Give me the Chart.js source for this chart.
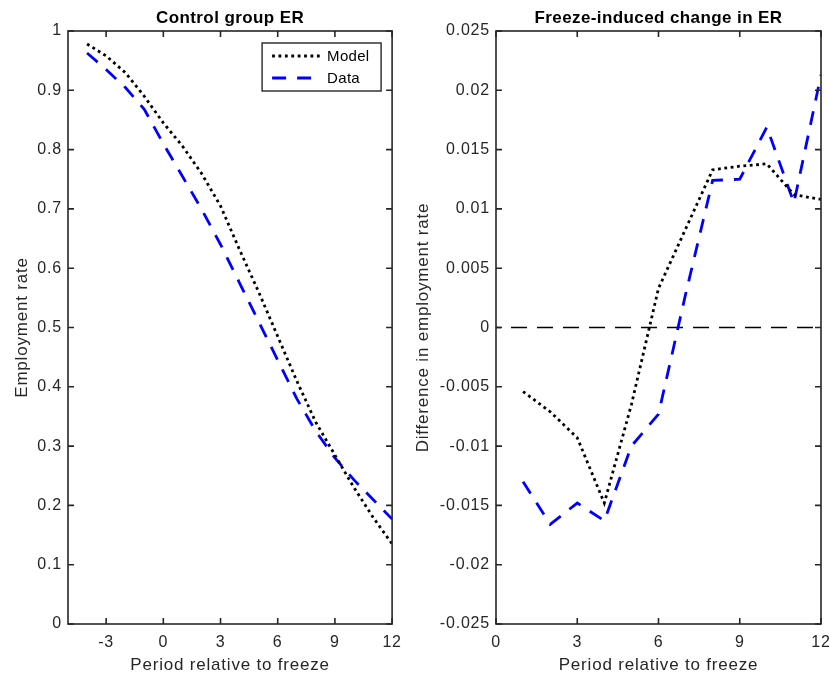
<!DOCTYPE html>
<html>
<head>
<meta charset="utf-8">
<script src="https://cdn.jsdelivr.net/npm/chart.js@4.4.0/dist/chart.umd.min.js"></script>
<style>
  html, body { margin: 0; padding: 0; background: #fff; overflow: hidden; }
  #wrap { position: relative; width: 830px; height: 682px; overflow: hidden; }
  #left { position: absolute; left: 0; top: 0; }
  #right { position: absolute; left: 410px; top: 0; }
</style>
</head>
<body>
<div id="wrap">
  <canvas id="left" width="410" height="682"></canvas>
  <canvas id="right" width="440" height="682"></canvas>
</div>
<script>
// left panel: control group employment rate
const periodsLeft = [-4, -3, -2, -1, 0, 1, 2, 3, 4, 5, 6, 7, 8, 9, 10, 11, 12];
const controlModel = [0.978, 0.958, 0.930, 0.890, 0.845, 0.806, 0.760, 0.705, 0.631, 0.560, 0.485, 0.410, 0.340, 0.285, 0.230, 0.180, 0.135];
const controlData = [0.963, 0.935, 0.905, 0.868, 0.810, 0.755, 0.700, 0.640, 0.575, 0.510, 0.445, 0.380, 0.325, 0.280, 0.243, 0.210, 0.177];
const leftXTicks = [-3, 0, 3, 6, 9, 12];
const leftYTicks = [0, 0.1, 0.2, 0.3, 0.4, 0.5, 0.6, 0.7, 0.8, 0.9, 1];

// right panel: freeze-induced change
const periodsRight = [1, 2, 3, 4, 5, 6, 7, 8, 9, 10, 11, 12];
const changeModel = [-0.0054, -0.0071, -0.0093, -0.0148, -0.0065, 0.0033, 0.0083, 0.0133, 0.0136, 0.0138, 0.0112, 0.0108];
const changeData = [-0.0130, -0.0166, -0.0148, -0.0163, -0.0100, -0.0073, 0.0028, 0.0124, 0.0125, 0.0169, 0.0105, 0.0213];
const zeroX = [0, 12];
const rightXTicks = [0, 3, 6, 9, 12];
const rightYTicks = [-0.025, -0.02, -0.015, -0.01, -0.005, 0, 0.005, 0.01, 0.015, 0.02, 0.025];

const INK = '#262626';
const FONT = '"Liberation Sans", Arial, Helvetica, sans-serif';
Chart.defaults.font.family = FONT;
Chart.defaults.color = INK;

// box round the axes with ticks pointing inwards, plus a title on top
const frame = {
  id: 'frame',
  beforeDraw(chart) {
    chart.ctx.letterSpacing = '0.8px';
  },
  afterDraw(chart, args, opts) {
    const { ctx, chartArea: a, scales: { x, y } } = chart;
    const L = 6;
    ctx.save();
    ctx.strokeStyle = INK;
    ctx.lineWidth = 1.6;
    ctx.strokeRect(a.left, a.top, a.right - a.left, a.bottom - a.top);
    ctx.beginPath();
    x.ticks.forEach(t => {
      const px = x.getPixelForValue(t.value);
      ctx.moveTo(px, a.bottom); ctx.lineTo(px, a.bottom - L);
      ctx.moveTo(px, a.top); ctx.lineTo(px, a.top + L);
    });
    y.ticks.forEach(t => {
      const py = y.getPixelForValue(t.value);
      ctx.moveTo(a.left, py); ctx.lineTo(a.left + L, py);
      ctx.moveTo(a.right, py); ctx.lineTo(a.right - L, py);
    });
    ctx.stroke();
    ctx.fillStyle = '#000';
    ctx.font = 'bold 17px ' + FONT;
    ctx.letterSpacing = '0.4px';
    ctx.textAlign = 'center';
    ctx.textBaseline = 'alphabetic';
    ctx.fillText(opts.text, (a.left + a.right) / 2, 23);
    ctx.restore();
  }
};

// legend box in the top right corner of the left axes
const boxLegend = {
  id: 'boxLegend',
  afterDraw(chart, args, opts) {
    if (!opts.items) return;
    const { ctx, chartArea: a } = chart;
    const bx = a.right - 130, by = a.top + 12, bw = 119, bh = 48;
    ctx.save();
    ctx.fillStyle = '#fff';
    ctx.fillRect(bx, by, bw, bh);
    ctx.strokeStyle = INK;
    ctx.lineWidth = 1.4;
    ctx.strokeRect(bx, by, bw, bh);
    ctx.font = '15px ' + FONT;
    ctx.letterSpacing = '0.3px';
    ctx.textBaseline = 'middle';
    opts.items.forEach((it, i) => {
      const ly = by + 13 + i * 22;
      ctx.beginPath();
      ctx.strokeStyle = it.color;
      ctx.lineWidth = it.width;
      ctx.setLineDash(it.dash);
      ctx.moveTo(bx + 10, ly);
      ctx.lineTo(bx + 58, ly);
      ctx.stroke();
      ctx.setLineDash([]);
      ctx.fillStyle = '#000';
      ctx.fillText(it.label, bx + 65, ly + 1);
    });
    ctx.restore();
  }
};

function fixedTicks(list) {
  return scale => { scale.ticks = list.map(v => ({ value: v })); };
}

function axes(xmin, xmax, xTicks, ymin, ymax, yTicks, yTitle, yWidth, yTitlePad, ydec) {
  return {
    x: {
      type: 'linear', min: xmin, max: xmax,
      afterBuildTicks: fixedTicks(xTicks),
      afterFit: s => { s.height = 58; },
      grid: { display: false, drawTicks: false },
      border: { display: false },
      ticks: { padding: 9, font: { size: 16 }, color: INK, maxRotation: 0, callback: v => String(v) },
      title: { display: true, text: 'Period relative to freeze', font: { size: 17 }, color: INK, padding: { top: 0, bottom: 6 } }
    },
    y: {
      type: 'linear', min: ymin, max: ymax,
      afterBuildTicks: fixedTicks(yTicks),
      afterFit: s => { s.width = yWidth; },
      grid: { display: false, drawTicks: false },
      border: { display: false },
      ticks: { padding: 6, font: { size: 16 }, color: INK, callback: v => String(+v.toFixed(ydec)) },
      title: { display: true, text: yTitle, font: { size: 17 }, color: INK, padding: { top: yTitlePad, bottom: 0 } }
    }
  };
}

const dotted = { borderColor: '#000', borderWidth: 2.8, borderDash: [2.8, 3.6] };
const dashed = { borderColor: '#0000ff', borderWidth: 2.8, borderDash: [14, 11] };

new Chart(document.getElementById('left'), {
  type: 'line',
  data: {
    datasets: [
      Object.assign({ label: 'Model', data: periodsLeft.map((p, i) => ({ x: p, y: controlModel[i] })) }, dotted),
      Object.assign({ label: 'Data', data: periodsLeft.map((p, i) => ({ x: p, y: controlData[i] })) }, dashed)
    ]
  },
  options: {
    responsive: false,
    animation: false,
    elements: { point: { radius: 0 }, line: { tension: 0, fill: false } },
    layout: { padding: { left: 0, right: 17, top: 31, bottom: 0 } },
    scales: axes(-5, 12, leftXTicks, 0, 1, leftYTicks, 'Employment rate', 68, 12, 1),
    plugins: {
      legend: { display: false },
      tooltip: { enabled: false },
      frame: { text: 'Control group ER' },
      boxLegend: {
        items: [
          { label: 'Model', color: '#000', width: 2.8, dash: [2.8, 3.6] },
          { label: 'Data', color: '#0000ff', width: 2.8, dash: [14, 11] }
        ]
      }
    }
  },
  plugins: [frame, boxLegend]
});

new Chart(document.getElementById('right'), {
  type: 'line',
  data: {
    datasets: [
      Object.assign({ label: 'Model', data: periodsRight.map((p, i) => ({ x: p, y: changeModel[i] })) }, dotted),
      Object.assign({ label: 'Data', data: periodsRight.map((p, i) => ({ x: p, y: changeData[i] })) }, dashed),
      { label: 'zero', data: zeroX.map(p => ({ x: p, y: 0 })), borderColor: '#000', borderWidth: 1.4, borderDash: [16, 10], borderDashOffset: 11 }
    ]
  },
  options: {
    responsive: false,
    animation: false,
    elements: { point: { radius: 0 }, line: { tension: 0, fill: false } },
    layout: { padding: { left: 0, right: 29, top: 31, bottom: 0 } },
    scales: axes(0, 12, rightXTicks, -0.025, 0.025, rightYTicks, 'Difference in employment rate', 86, 3, 3),
    plugins: {
      legend: { display: false },
      tooltip: { enabled: false },
      frame: { text: 'Freeze-induced change in ER' },
      boxLegend: {}
    }
  },
  plugins: [frame, boxLegend]
});
</script>
</body>
</html>
